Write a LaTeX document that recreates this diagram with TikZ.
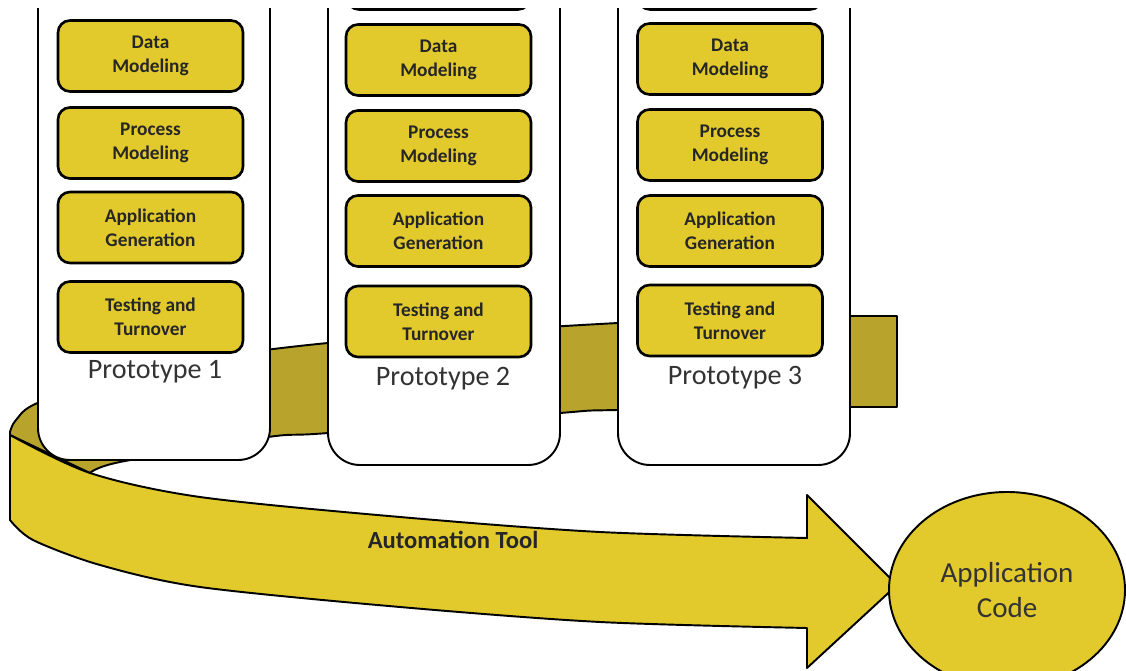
\documentclass[tikz,border=0pt]{standalone}
\usepackage{fontspec}
\setmainfont{Carlito}
\usepackage{xcolor}
\usepackage{tikz}
\usetikzlibrary{shapes.geometric}

\definecolor{boxyellow}{RGB}{226,202,45}
\definecolor{bandolive}{RGB}{184,164,44}

\tikzset{
  stage/.style={draw, line width=1.5pt, fill=boxyellow, rounded corners=2.4mm,
    minimum width=37mm, minimum height=14.2mm, align=center,
    font=\fontsize{11}{13.5}\selectfont\bfseries, text=black!85},
  column/.style={draw, line width=1.1pt, fill=white, rounded corners=6.4mm},
  protolabel/.style={font=\fontsize{16}{19}\selectfont, text=black!80},
  band/.style={draw, line width=1.1pt, line join=round},
}

\begin{document}
\begin{tikzpicture}[x=0.2mm, y=-0.2mm]
		\useasboundingbox (0,0) rectangle (1126,671);

		% Back of the band, behind the prototypes
		\draw[band, fill=bandolive] (897,407) -- (897,316) -- (850,316)
			-- plot[smooth] coordinates {(850,316) (618,323) (328,343) (150,368) (40,402) (16,420) (10,432)}
			-- (10,435) -- (90,473)
			-- plot[smooth] coordinates {(90,473) (120,462) (268,437) (328,433) (560,413) (618,410) (850,407)}
			-- cycle;

		\begin{scope}
			\clip (0,9) rectangle (1126,671);

			% Prototype 1
			\draw[column] (38,-60) rectangle (270,460);
			\node[stage] (data1) at (150.5,56) {Data\\Modeling};
			\node[stage] (proc1) at (150.5,143) {Process\\Modeling};
			\node[stage] (gen1) at (150.5,227.5) {Application\\Generation};
			\node[stage] (test1) at (150.5,317) {Testing and\\Turnover};
			\node[protolabel] (proto1) at (155,372) {Prototype 1};

			% Prototype 2
			\draw[column] (328,-60) rectangle (560,465);
			\draw[line width=1.5pt, fill=white, rounded corners=2.4mm] (347,-60) rectangle (530,9.5);
			\node[stage] (data2) at (438.5,60) {Data\\Modeling};
			\node[stage] (proc2) at (438.5,146) {Process\\Modeling};
			\node[stage] (gen2) at (438.5,231) {Application\\Generation};
			\node[stage] (test2) at (438.5,321.5) {Testing and\\Turnover};
			\node[protolabel] (proto2) at (443,379) {Prototype 2};

			% Prototype 3
			\draw[column] (618,-60) rectangle (850,465);
			\draw[line width=1.5pt, fill=white, rounded corners=2.4mm] (638,-60) rectangle (822,9.5);
			\node[stage] (data3) at (730,59) {Data\\Modeling};
			\node[stage] (proc3) at (730,145) {Process\\Modeling};
			\node[stage] (gen3) at (730,231) {Application\\Generation};
			\node[stage] (test3) at (730,320.5) {Testing and\\Turnover};
			\node[protolabel] (proto3) at (735,378) {Prototype 3};
		\end{scope}

		% Front of the band, ending in the arrow
		\draw[band, fill=boxyellow]
			plot[smooth] coordinates {(10,435) (90,473) (200,497) (400,517) (600,532) (807,538)}
			-- (807,495) -- (897,585) -- (807,668) -- (807,628)
			-- plot[smooth] coordinates {(807,628) (600,622) (400,607) (200,587) (100,565) (33,540) (10,520)}
			-- cycle;
		\node[font=\fontsize{14}{16}\selectfont\bfseries, text=black!85] (tool) at (453,540) {Automation Tool};

		% Result
		\node[ellipse, draw, line width=1.1pt, fill=boxyellow, minimum width=47.2mm, minimum height=39.2mm,
			inner sep=0pt, align=center, font=\fontsize{16.5}{20}\selectfont, text=black!80] (code) at (1007,590) {Application\\Code};
	\end{tikzpicture}
\end{document}
